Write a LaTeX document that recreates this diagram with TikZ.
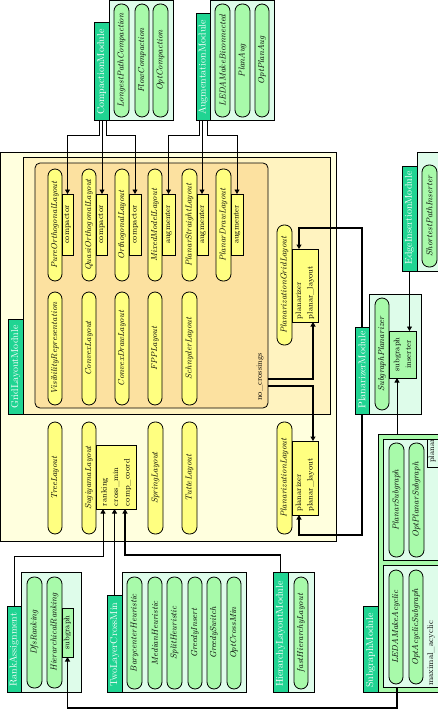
\documentclass[tikz,border=0pt]{standalone}
\usepackage{fontspec}
\usetikzlibrary{arrows.meta,calc}
\definecolor{ylO}{RGB}{255,255,222}
\definecolor{ylI}{RGB}{255,243,192}
\definecolor{orng}{RGB}{252,225,160}
\definecolor{ylP}{RGB}{255,255,128}
\definecolor{tealL}{RGB}{32,212,146}
\definecolor{mint}{RGB}{222,252,234}
\definecolor{grP}{RGB}{168,250,170}
\newcommand\pillfont{\fontsize{8.7}{9}\selectfont\itshape}
\newcommand\modfont{\fontsize{8}{11.5}\selectfont}
\newcommand\lblfont{\fontsize{10}{10}\selectfont}
\newcommand\rbox[7]{%
  \pgfmathsetmacro\rbcx{(#3+#5)/2}%
  \pgfmathsetmacro\rbcy{(#4+#6)/2}%
  \pgfmathsetmacro\rbw{#6-#4}%
  \pgfmathsetmacro\rbh{#5-#3}%
  \node[#1,minimum width=\rbw pt,minimum height=\rbh pt] (#2) at (\rbcx,\rbcy) {#7};}
\tikzset{
  base/.style={draw=black,line width=0.8pt,inner sep=0pt,outer sep=0pt,rotate=90},
  outerY/.style={base,fill=ylO},
  innerY/.style={base,fill=ylI},
  orangebox/.style={base,fill=orng,rounded corners=5pt},
  contM/.style={base,fill=mint},
  contG/.style={base,fill=grP},
  pillY/.style={base,fill=ylP,rounded corners=7pt,font=\pillfont},
  pillG/.style={base,fill=grP,rounded corners=7pt,font=\pillfont},
  modY/.style={base,fill=ylP,font=\modfont,align=left},
  modG/.style={base,fill=grP,font=\modfont,align=center},
  lbl/.style={base,fill=tealL},
  lbltext/.style={rotate=90,anchor=west,text=white,font=\lblfont,inner sep=0pt},
  plaintext/.style={rotate=90,anchor=west,font=\modfont,inner sep=0pt},
  conn/.style={draw=black,line width=0.8pt},
  heavy/.style={draw=black,line width=1.8pt},
  arr/.style={-{Triangle[length=4.5pt,width=5pt]}}
}
\begin{document}
\begin{tikzpicture}[x=1pt,y=-1pt]
\clip (0,0) rectangle (438,709);
\fill[white] (0,0) rectangle (438,709);

% ---------- Compaction module ----------
\rbox{contM}{cmc}{109}{0.5}{173}{120}{}
\rbox{lbl}{cml}{94}{22}{109}{120}{}
\node[lbltext] (cmlt) at ($(cml.west)+(0,-5)$) {CompactionModule};
\rbox{pillG}{lpc}{114}{4}{129}{117}{LongestPathCompaction}
\rbox{pillG}{flc}{135}{4}{149}{117}{FlowCompaction}
\rbox{pillG}{opc}{153}{4}{168}{117}{OptCompaction}

% ---------- Augmentation module ----------
\rbox{contM}{amc}{210}{0.5}{274}{120}{}
\rbox{lbl}{aml}{196}{13}{210}{120}{}
\node[lbltext] (amlt) at ($(aml.west)+(0,-5)$) {AugmentationModule};
\rbox{pillG}{lmb}{215}{4}{230}{117}{LEDAMakeBiconnected}
\rbox{pillG}{pla}{235}{4}{250}{117}{PlanAug}
\rbox{pillG}{opa}{255}{4}{269}{117}{OptPlanAug}

% ---------- Layout containers ----------
\rbox{outerY}{lay}{0.5}{152}{336}{541}{}
\rbox{innerY}{gcont}{23}{157}{330}{414}{}
\rbox{lbl}{gll}{8}{319}{23}{414}{}
\node[lbltext] (gllt) at ($(gll.west)+(0,-5)$) {GridLayoutModule};
\rbox{orangebox}{org}{35}{163}{268}{408}{}

% row 1
\rbox{pillY}{pol}{48}{169}{62}{281}{PureOrthogonalLayout}
\rbox{pillY}{qol}{82}{169}{96}{281}{QuasiOrthogonalLayout}
\rbox{pillY}{orl}{115}{169}{129}{281}{OrthogonalLayout}
\rbox{pillY}{mml}{148}{169}{162}{281}{MixedModelLayout}
\rbox{pillY}{psl}{182}{169}{197}{281}{PlanarStraightLayout}
\rbox{pillY}{pdl}{216}{169}{231}{281}{PlanarDrawLayout}
\rbox{modY}{c1}{62}{194}{73}{255}{compactor}
\rbox{modY}{c2}{96}{194}{107}{255}{compactor}
\rbox{modY}{c3}{129}{194}{141}{255}{compactor}
\rbox{modY}{a1}{162}{194}{175}{255}{augmenter}
\rbox{modY}{a2}{197}{194}{208}{255}{augmenter}
\rbox{modY}{a3}{231}{194}{243}{255}{augmenter}

% row 2
\rbox{pillY}{vis}{48}{292}{62}{405}{VisibilityRepresentation}
\rbox{pillY}{cvl}{82}{292}{96}{405}{ConvexLayout}
\rbox{pillY}{cdl}{115}{292}{129}{405}{ConvexDrawLayout}
\rbox{pillY}{fpp}{148}{292}{162}{405}{FPPLayout}
\rbox{pillY}{sch}{182}{292}{197}{405}{SchnyderLayout}
\node[plaintext] (nc) at (260,401) {no\_crossings};
\coordinate (nc1) at (268,379);
\coordinate (nc2) at (268,386);

% planarization grid
\rbox{pillY}{pgl}{277}{225}{292}{345}{PlanarizationGridLayout}
\rbox{modY,text width=67pt}{pgbox}{292}{249}{318}{322}{planarizer\\planar\_layout}

% row 3
\rbox{pillY}{trl}{48}{422}{62}{534}{TreeLayout}
\rbox{pillY}{sgl}{82}{422}{96}{534}{SugiyamaLayout}
\rbox{modY,text width=58pt}{sugbox}{96}{445}{136}{509}{ranking\\cross\_min\\comp\_coord}
\rbox{pillY}{spl}{148}{422}{163}{534}{SpringLayout}
\rbox{pillY}{tul}{182}{422}{197}{534}{TutteLayout}
\rbox{pillY}{pzl}{277}{422}{292}{534}{PlanarizationLayout}
\rbox{modY,text width=67pt}{plbox}{292}{441}{318}{515}{planarizer\\planar\_layout}

% ---------- Edge insertion module ----------
\rbox{contM}{eic}{417}{152}{445}{271}{}
\rbox{lbl}{eil}{402}{166}{417}{271}{}
\node[lbltext] (eilt) at ($(eil.west)+(0,-6)$) {EdgeInsertionModule};
\rbox{pillG}{spi}{422}{165}{437}{267}{ShortestPathInserter}

% ---------- Planarizer module ----------
\rbox{contM}{pmc}{369}{294}{421}{414}{}
\rbox{lbl}{pml}{355}{327}{369}{414}{}
\node[lbltext] (pmlt) at ($(pml.west)+(0,-5)$) {PlanarizerModule};
\rbox{pillG}{sgp}{375}{298}{389}{410}{SubgraphPlanarizer}
\rbox{modG}{sgbox}{389}{331}{416}{378}{subgraph\\inserter}

% ---------- Subgraph module ----------
\rbox{contG}{sgc}{378}{434}{445}{692}{}
\rbox{lbl}{sgml}{363}{606}{378}{692}{}
\node[lbltext] (sgmlt) at ($(sgml.west)+(0,-4)$) {SubgraphModule};
\rbox{contM}{sg1}{383}{439}{445}{560}{}
\rbox{pillG}{pls}{389}{443}{404}{557}{PlanarSubgraph}
\rbox{pillG}{ops}{409}{443}{424}{557}{OptPlanarSubgraph}
\rbox{contM}{plbx}{427}{439}{445}{467}{}
\node[plaintext] (plt) at (432,463) {planar};
\rbox{contM}{sg2}{383}{565}{445}{687}{}
\rbox{pillG}{lma}{389}{570}{403}{684}{LEDAMakeAcyclic}
\rbox{pillG}{oas}{409}{570}{423}{684}{OptAcyclicSubgraph}
\node[plaintext,font=\fontsize{8.5}{9}\selectfont] (mac) at (431,686) {maximal\_acyclic};

% ---------- Rank assignment ----------
\rbox{contM}{rac}{21}{572}{81}{692}{}
\rbox{lbl}{ral}{7}{606}{21}{692}{}
\node[lbltext] (ralt) at ($(ral.west)+(0,-5)$) {RankAssignment};
\rbox{pillG}{dfr}{27}{577}{42}{688}{DfsRanking}
\rbox{pillG}{hir}{47}{577}{62}{688}{HierarchicalRanking}
\rbox{modG}{rsub}{62}{608}{73}{657}{subgraph}

% ---------- Two layer cross min ----------
\rbox{contM}{tlcc}{122}{572}{246}{692}{}
\rbox{lbl}{tlc}{107}{595}{122}{692}{}
\node[lbltext] (tlct) at ($(tlc.west)+(0,-5)$) {TwoLayerCrossMin};
\rbox{pillG}{bch}{127}{577}{142}{689}{BarycenterHeuristic}
\rbox{pillG}{mdh}{148}{577}{162}{689}{MedianHeuristic}
\rbox{pillG}{sph}{167}{577}{182}{689}{SplitHeuristic}
\rbox{pillG}{gri}{188}{577}{202}{689}{GreedyInsert}
\rbox{pillG}{grs}{207}{577}{221}{689}{GreedySwitch}
\rbox{pillG}{ocm}{227}{577}{241}{689}{OptCrossMin}

% ---------- Hierarchy layout module ----------
\rbox{contM}{hlc}{288}{572}{314}{692}{}
\rbox{lbl}{hlm}{273}{572}{288}{692}{}
\node[lbltext] (hlmt) at ($(hlm.west)+(0,-5)$) {HierarchyLayoutModule};
\rbox{pillG}{fhl}{294}{577}{308}{689}{fastHierarchyLayout}

% ---------- ports ----------
\coordinate (cm1) at ($(cml.west)+(-2.5,0)$);
\coordinate (cm2) at ($(cml.west)+(0.5,0)$);
\coordinate (cm3) at ($(cml.west)+(4.5,0)$);
\coordinate (am1) at ($(aml.west)+(-4,0)$);
\coordinate (am2) at ($(aml.west)+(-1,0)$);
\coordinate (am3) at ($(aml.west)+(4,0)$);
\coordinate (pgin1) at ($(pgbox.north east)+(7,0)$);
\coordinate (pgin2) at ($(pgbox.north west)+(21,0)$);
\coordinate (plin1) at ($(plbox.north west)+(7,0)$);
\coordinate (plin2) at ($(plbox.north east)+(21,0)$);
\coordinate (sgin) at ($(sgbox.north west)+(8,0)$);
\coordinate (sgout) at ($(sg2.north west)+(14,0)$);
\coordinate (sugin1) at ($(sugbox.north west)+(7,0)$);
\coordinate (sugin2) at ($(sugbox.north west)+(19,0)$);
\coordinate (sugin3) at ($(sugbox.north west)+(29,0)$);

% ---------- connectors ----------
\draw[conn,arr] (cm1) -- ++(0,15) -| (c1.east);
\draw[conn,arr] (cm2) -- (cm2 |- c2.east);
\draw[conn,arr] (cm3) -- ++(0,15) -| (c3.east);
\draw[conn,arr] (am1) -- ++(0,15) -| (a1.east);
\draw[conn,arr] (am2) -- (am2 |- a2.east);
\draw[conn,arr] (am3) -- ++(0,15) -| (a3.east);
\draw[conn,arr] (eil.west) -- (eil.west |- sgbox.east);
\draw[heavy,arr] (pml.east) -- ++(0,-99) -| (pgin1);
\draw[heavy,arr] (pml.west) -- ++(0,121) -| (plin1);
\draw[heavy,arr] (nc1) -| (pgin2);
\draw[heavy,arr] (nc2) -| (plin2);
\draw[conn,arr] (sgin |- sgc.east) -- (sgin);
\draw[heavy,arr] (sgout) -- ++(0,21) -| (rsub.west);
\draw[conn,arr] (ral.east) -- ++(0,-50) -| (sugin1);
\draw[conn,arr] (tlc.east) -- (tlc.east |- sugin2);
\draw[heavy,arr] (hlm.east) -- ++(0,-17) -| (sugin3);
\end{tikzpicture}
\end{document}
